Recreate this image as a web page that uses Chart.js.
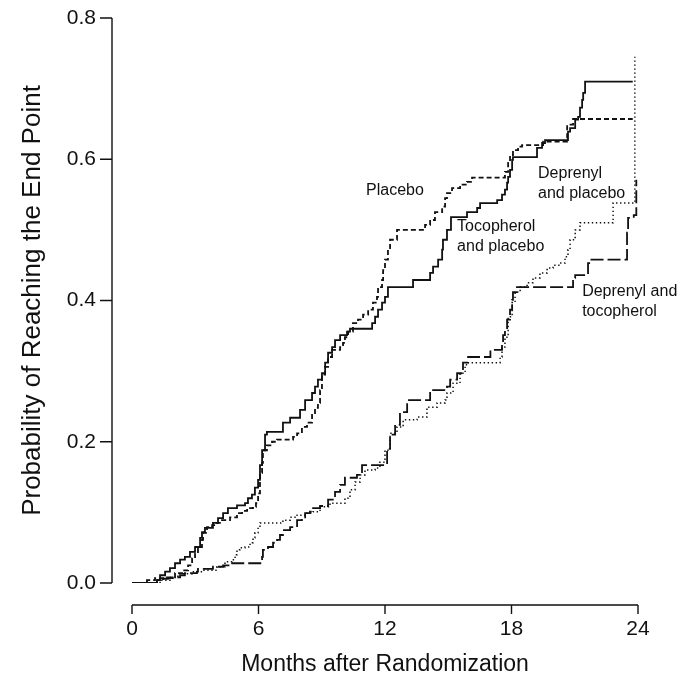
<!DOCTYPE html>
<html>
<head>
<meta charset="utf-8">
<script src="https://cdn.jsdelivr.net/npm/chart.js@4.4.1/dist/chart.umd.min.js"></script>
<style>
  html, body { margin: 0; padding: 0; background: #fff; }
  #wrap { width: 681px; height: 687px; }
</style>
</head>
<body>
<div id="wrap"><canvas id="c" width="681" height="687"></canvas></div>
<script>
// ---- Data (months after randomization, probability of reaching end point) ----
const tocoPlaceboT = [0,1.19,1.33,1.57,1.80,2.04,2.28,2.51,2.75,2.99,3.23,3.32,3.46,3.84,4.08,4.32,4.55,4.98,5.36,5.50,5.69,5.83,5.98,6.07,6.17,6.31,6.40,7.16,7.50,7.97,8.21,8.54,8.68,8.82,9.01,9.16,9.30,9.49,9.63,9.87,10.20,10.34,11.39,11.53,11.67,11.86,12.00,12.14,13.33,14.14,14.28,14.52,14.71,14.75,14.94,15.13,15.89,16.37,16.51,17.32,17.55,17.69,17.79,17.84,17.93,18.03,18.07,19.21,19.45,19.59,20.68,20.78,21.02,21.16,21.25,21.35,21.40,21.49,23.75];
const tocoPlaceboP = [0,0.004,0.011,0.016,0.021,0.028,0.033,0.037,0.044,0.051,0.064,0.072,0.078,0.085,0.092,0.099,0.106,0.110,0.113,0.120,0.125,0.135,0.146,0.167,0.188,0.210,0.214,0.227,0.234,0.245,0.259,0.269,0.278,0.288,0.297,0.312,0.326,0.334,0.344,0.351,0.356,0.360,0.368,0.377,0.387,0.397,0.405,0.419,0.429,0.439,0.448,0.458,0.472,0.486,0.500,0.518,0.525,0.531,0.538,0.542,0.550,0.557,0.567,0.575,0.585,0.599,0.603,0.616,0.623,0.627,0.639,0.644,0.656,0.660,0.673,0.684,0.694,0.710,0.710];

const placeboT = [0,0.71,1.09,1.66,2.04,2.42,2.66,2.85,2.99,3.13,3.32,3.37,3.56,3.80,4.03,4.17,4.65,4.98,5.22,5.46,5.74,5.88,5.98,6.07,6.17,6.21,6.40,6.64,6.88,7.64,7.83,8.06,8.30,8.54,8.68,8.82,8.92,9.01,9.16,9.30,9.49,9.87,10.01,10.10,10.25,10.48,10.72,10.96,11.20,11.43,11.62,11.67,11.86,11.91,12.00,12.14,12.24,12.57,13.90,14.14,14.37,14.71,14.85,14.94,15.18,15.56,15.89,16.13,17.69,17.84,17.93,18.07,18.31,18.50,19.50,20.64,20.92,23.75];
const placeboP = [0,0.004,0.007,0.008,0.014,0.018,0.025,0.035,0.042,0.051,0.061,0.071,0.079,0.082,0.085,0.089,0.093,0.099,0.102,0.106,0.108,0.113,0.127,0.156,0.170,0.188,0.195,0.200,0.203,0.207,0.212,0.221,0.227,0.238,0.248,0.255,0.273,0.295,0.306,0.320,0.330,0.334,0.340,0.348,0.356,0.368,0.373,0.380,0.387,0.397,0.405,0.419,0.429,0.443,0.458,0.472,0.486,0.500,0.507,0.514,0.525,0.533,0.545,0.552,0.559,0.564,0.568,0.574,0.582,0.595,0.606,0.613,0.618,0.620,0.625,0.649,0.657,0.657];

const deprPlaceboT = [0,1.33,1.80,2.18,2.85,3.37,4.03,4.41,4.74,4.89,4.98,5.12,5.36,5.60,5.74,5.83,5.98,6.07,7.16,7.50,7.83,8.30,8.59,8.92,9.39,10.10,10.34,10.58,10.82,11.05,11.53,11.76,12.00,12.24,12.57,12.86,13.52,13.99,14.47,14.85,14.94,15.23,15.56,15.80,15.94,17.46,17.55,17.69,17.84,18.03,18.17,18.41,18.74,19.02,19.35,19.69,19.97,20.30,20.54,20.68,20.78,21.02,21.25,22.82,23.85];
const deprPlaceboP = [0,0.004,0.008,0.013,0.016,0.018,0.023,0.030,0.033,0.040,0.047,0.050,0.051,0.057,0.064,0.071,0.079,0.085,0.089,0.093,0.096,0.099,0.101,0.108,0.113,0.120,0.132,0.143,0.153,0.160,0.163,0.171,0.188,0.212,0.221,0.231,0.235,0.249,0.255,0.259,0.269,0.283,0.297,0.309,0.312,0.320,0.334,0.348,0.377,0.397,0.412,0.419,0.425,0.432,0.439,0.446,0.450,0.453,0.462,0.472,0.486,0.500,0.510,0.538,0.745];

const deprTocoT = [0,1.19,1.47,1.71,1.94,2.28,2.51,3.08,3.13,3.84,4.32,4.65,6.17,6.21,6.45,6.69,6.88,7.02,7.16,7.50,7.83,8.06,8.21,8.44,8.59,8.92,9.30,9.63,9.87,10.10,10.67,10.91,12.10,12.24,12.48,12.71,13.05,14.14,14.94,15.09,15.42,15.70,15.94,17.00,17.55,17.60,17.69,17.79,17.93,18.03,18.07,18.26,20.92,21.02,21.63,21.73,23.48,23.53,23.80,23.92];
const deprTocoP = [0,0.004,0.006,0.007,0.008,0.011,0.014,0.016,0.020,0.023,0.025,0.028,0.037,0.047,0.051,0.057,0.061,0.068,0.075,0.079,0.089,0.093,0.099,0.101,0.106,0.109,0.118,0.129,0.139,0.149,0.153,0.167,0.190,0.210,0.224,0.242,0.259,0.273,0.278,0.288,0.297,0.312,0.320,0.330,0.337,0.351,0.358,0.373,0.387,0.401,0.412,0.419,0.432,0.436,0.453,0.458,0.496,0.517,0.521,0.571];

const xTicks = [0, 6, 12, 18, 24];
const yTicks = [0.0, 0.2, 0.4, 0.6, 0.8];
const xTitle = 'Months after Randomization';
const yTitle = 'Probability of Reaching the End Point';

// curve labels: [lines, month (left edge), probability (first line centre)]
const curveLabels = [
  { lines: ['Placebo'], x: 11.1, y: 0.555 },
  { lines: ['Tocopherol', 'and placebo'], x: 15.42, y: 0.505 },
  { lines: ['Deprenyl', 'and placebo'], x: 19.26, y: 0.580 },
  { lines: ['Deprenyl and', 'tocopherol'], x: 21.35, y: 0.412 }
];

function zip(t, p) {
  const n = Math.min(t.length, p.length);
  const out = [];
  for (let i = 0; i < n; i++) out.push({ x: t[i], y: p[i] });
  return out;
}

const FONT = "'Liberation Sans', Arial, Helvetica, sans-serif";
const INK = '#111111';

const axesPlugin = {
  id: 'detachedAxes',
  afterDraw(chart) {
    const ctx = chart.ctx;
    const xs = chart.scales.x, ys = chart.scales.y;
    const yAxisX = chart.chartArea.left - 20;
    const xAxisY = chart.chartArea.bottom + 22;
    ctx.save();
    ctx.strokeStyle = INK;
    ctx.lineWidth = 1.4;
    ctx.beginPath();
    ctx.moveTo(yAxisX, ys.getPixelForValue(yTicks[0]));
    ctx.lineTo(yAxisX, ys.getPixelForValue(yTicks[yTicks.length - 1]));
    yTicks.forEach(v => {
      const py = ys.getPixelForValue(v);
      ctx.moveTo(yAxisX, py);
      ctx.lineTo(yAxisX - 12, py);
    });
    ctx.moveTo(xs.getPixelForValue(xTicks[0]), xAxisY);
    ctx.lineTo(xs.getPixelForValue(xTicks[xTicks.length - 1]), xAxisY);
    xTicks.forEach(v => {
      const px = xs.getPixelForValue(v);
      ctx.moveTo(px, xAxisY);
      ctx.lineTo(px, xAxisY + 9);
    });
    ctx.stroke();

    ctx.fillStyle = INK;
    ctx.font = '16px ' + FONT;
    ctx.textAlign = 'left';
    ctx.textBaseline = 'middle';
    curveLabels.forEach(l => {
      const px = xs.getPixelForValue(l.x);
      const py = ys.getPixelForValue(l.y);
      l.lines.forEach((s, i) => ctx.fillText(s, px, py + i * 20));
    });
    ctx.restore();
  }
};

const common = { pointRadius: 0, borderWidth: 1.8, stepped: true, fill: false, borderColor: INK, tension: 0 };

new Chart(document.getElementById('c'), {
  type: 'line',
  data: {
    datasets: [
      Object.assign({}, common, { label: 'Tocopherol and placebo', data: zip(tocoPlaceboT, tocoPlaceboP), borderDash: [] }),
      Object.assign({}, common, { label: 'Placebo', data: zip(placeboT, placeboP), borderDash: [5, 3] }),
      Object.assign({}, common, { label: 'Deprenyl and placebo', data: zip(deprPlaceboT, deprPlaceboP), borderDash: [1.4, 2.6], borderWidth: 1.5 }),
      Object.assign({}, common, { label: 'Deprenyl and tocopherol', data: zip(deprTocoT, deprTocoP), borderDash: [13, 4] })
    ]
  },
  options: {
    responsive: false,
    animation: false,
    events: [],
    layout: { padding: { left: 0, right: 43, top: 18, bottom: 0 } },
    plugins: { legend: { display: false }, tooltip: { enabled: false } },
    scales: {
      x: {
        type: 'linear', min: 0, max: 24,
        grid: { display: false, drawTicks: false },
        border: { display: false },
        afterBuildTicks: s => { s.ticks = xTicks.map(v => ({ value: v })); },
        afterFit: s => { s.height = 104; s.paddingLeft = 0; s.paddingRight = 0; },
        ticks: { color: INK, font: { family: FONT, size: 21 }, padding: 34, maxRotation: 0, autoSkip: false },
        title: { display: true, text: xTitle, color: INK, font: { family: FONT, size: 23 }, padding: { top: 0, bottom: 9 } }
      },
      y: {
        type: 'linear', min: 0, max: 0.8,
        grid: { display: false, drawTicks: false },
        border: { display: false },
        afterBuildTicks: s => { s.ticks = yTicks.map(v => ({ value: v })); },
        afterFit: s => { s.width = 132; s.paddingTop = 0; s.paddingBottom = 0; },
        ticks: { color: INK, font: { family: FONT, size: 21 }, padding: 36, callback: v => Number(v).toFixed(1) },
        title: { display: true, text: yTitle, color: INK, font: { family: FONT, size: 26 }, padding: { top: 17, bottom: 0 } }
      }
    }
  },
  plugins: [axesPlugin]
});
</script>
</body>
</html>
